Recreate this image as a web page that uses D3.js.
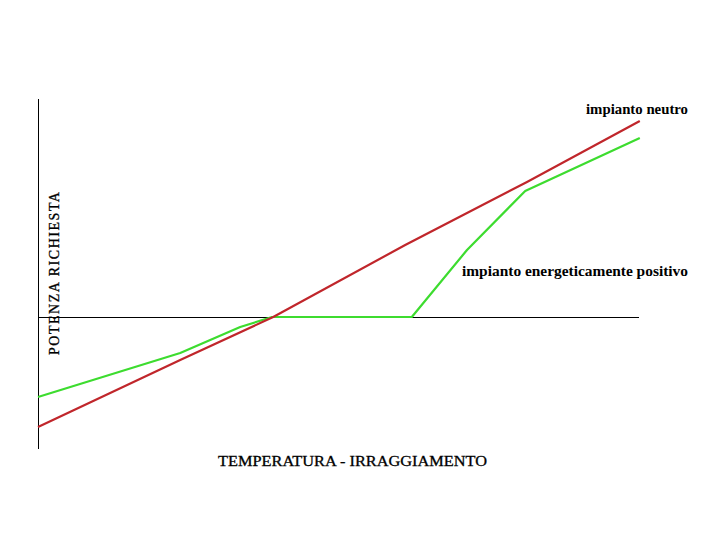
<!DOCTYPE html>
<html>
<head>
<meta charset="utf-8">
<script src="https://cdn.jsdelivr.net/npm/d3@7"></script>
<style>
  html, body { margin: 0; padding: 0; background: #fff; }
  svg { display: block; }
</style>
</head>
<body>
<svg id="chart" width="720" height="540"></svg>
<script>
// Data (arbitrary units: x = temperatura/irraggiamento, y = potenza richiesta)
const neutroX = [0, 23.7, 39.2, 61.2, 81.5, 100.3];
const neutroY = [-110, -43, 0, 72, 135, 196];
const positivoX = [0, 23.7, 33.7, 39, 62.3, 71.5, 81.2, 100.3];
const positivoY = [-80, -36, -10, 0, 0, 67, 126, 179];
const labels = ["impianto neutro", "impianto energeticamente positivo"];
const xTitle = "TEMPERATURA - IRRAGGIAMENTO";
const yTitle = "POTENZA RICHIESTA";

const svg = d3.select("#chart");
const x = d3.scaleLinear().domain([0, 100]).range([38, 638]);
const y = d3.scaleLinear().domain([-131, 219]).range([448, 98]);

// axes (plain lines, no ticks)
const xAxis = d3.axisBottom(x).tickValues([]).tickSizeOuter(0);
const yAxis = d3.axisLeft(y).tickValues([]).tickSizeOuter(0);
svg.append("g").attr("transform", `translate(0,${y(0)})`).call(xAxis)
  .select(".domain").attr("stroke", "#000").attr("stroke-width", 1).attr("shape-rendering", "crispEdges");
svg.append("g").attr("transform", `translate(${x(0)},0)`).call(yAxis)
  .select(".domain").attr("stroke", "#000").attr("stroke-width", 1).attr("shape-rendering", "crispEdges");

const line = d3.line().x(d => x(d[0])).y(d => y(d[1]));
const neutro = neutroX.map((v, i) => [v, neutroY[i]]);
const positivo = positivoX.map((v, i) => [v, positivoY[i]]);

svg.append("path").datum(positivo).attr("d", line)
  .attr("fill", "none").attr("stroke", "#3ddc2f").attr("stroke-width", 2.2).attr("stroke-linejoin", "round");
svg.append("path").datum(neutro).attr("d", line)
  .attr("fill", "none").attr("stroke", "#c0262b").attr("stroke-width", 2.2).attr("stroke-linejoin", "round");

const font = "'Liberation Serif', 'Times New Roman', serif";

svg.append("text").attr("x", 688).attr("y", 114).attr("text-anchor", "end")
  .attr("font-family", font).attr("font-weight", "bold").attr("font-size", 14)
  .attr("textLength", 102).attr("lengthAdjust", "spacingAndGlyphs")
  .text(labels[0]);
svg.append("text").attr("x", 462).attr("y", 276)
  .attr("font-family", font).attr("font-weight", "bold").attr("font-size", 14)
  .attr("textLength", 226).attr("lengthAdjust", "spacingAndGlyphs")
  .text(labels[1]);

svg.append("text").attr("x", 218).attr("y", 466)
  .attr("font-family", font).attr("font-size", 15).attr("stroke", "#000").attr("stroke-width", 0.3)
  .attr("textLength", 269).attr("lengthAdjust", "spacingAndGlyphs")
  .text(xTitle);

svg.append("text").attr("transform", "translate(59,355) rotate(-90)")
  .attr("font-family", font).attr("font-size", 14).attr("stroke", "#000").attr("stroke-width", 0.3)
  .attr("textLength", 163).attr("lengthAdjust", "spacing")
  .text(yTitle);
</script>
</body>
</html>
